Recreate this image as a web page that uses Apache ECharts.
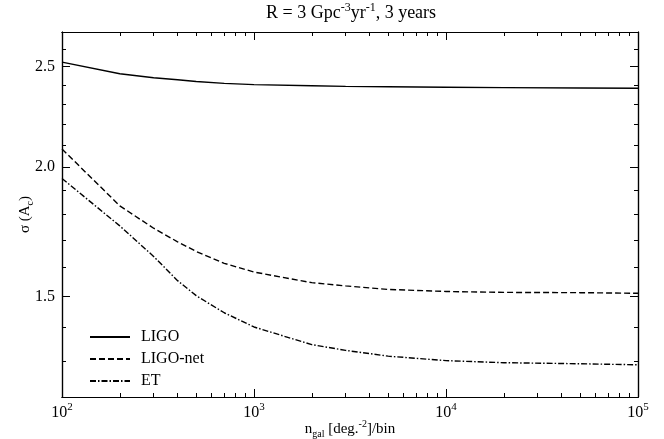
<!DOCTYPE html>
<html>
<head>
<meta charset="utf-8">
<script src="https://cdn.jsdelivr.net/npm/echarts@6/dist/echarts.min.js"></script>
<style>
    html, body {margin: 0; padding: 0; background: #fff;}
    #chart {width: 664px; height: 439px;}
</style>
</head>
<body>
<div id="chart"></div>
<script>
    // values
    let nGal = [100, 200, 300, 400, 500, 700, 1000, 2000, 3000, 5000, 10000, 20000, 50000, 100000]
    let ligo = [2.525, 2.461, 2.439, 2.428, 2.419, 2.409, 2.402, 2.396, 2.393, 2.391, 2.388, 2.386, 2.384, 2.383]
    let ligoNet = [2.082, 1.835, 1.746, 1.694, 1.658, 1.615, 1.584, 1.547, 1.536, 1.524, 1.517, 1.514, 1.513, 1.511]
    let et = [1.950, 1.755, 1.640, 1.554, 1.503, 1.447, 1.402, 1.348, 1.331, 1.314, 1.301, 1.295, 1.292, 1.289]
    let seriesNames = ['LIGO', 'LIGO-net', 'ET']

    let xMajor = [100, 1000, 10000, 100000]
    let xMinor = [200, 300, 400, 500, 600, 700, 800, 900,
        2000, 3000, 4000, 5000, 6000, 7000, 8000, 9000,
        20000, 30000, 40000, 50000, 60000, 70000, 80000, 90000]
    let yMajor = [1.5, 2.0, 2.5]
    let yMinor = [1.3, 1.4, 1.6, 1.7, 1.8, 1.9, 2.1, 2.2, 2.3, 2.4, 2.6]

    let font = 'Liberation Serif'
    let myChart = echarts.init(document.getElementById('chart'))

    function pairs(ys) {
        return nGal.map(function (x, i) { return [x, ys[i]] })
    }

    function xAxisOf(pos, ticks, len, main) {
        return {
            type: 'log',
            logBase: 10,
            min: 100,
            max: 100000,
            position: pos,
            axisLine: {show: true, onZero: false, lineStyle: {color: '#000', width: 1.2}},
            axisTick: {show: true, inside: true, length: len, customValues: ticks, lineStyle: {color: '#000', width: 1}},
            axisLabel: main ? {
                show: true,
                customValues: xMajor,
                margin: 5,
                color: '#000',
                fontFamily: font,
                fontSize: 16,
                lineHeight: 22,
                formatter: function (v) {
                    return '10{sup|' + Math.round(Math.log10(v)) + '}'
                },
                rich: {
                    sup: {fontSize: 11, fontFamily: font, color: '#000', verticalAlign: 'top', lineHeight: 11}
                }
            } : {show: false},
            splitLine: {show: false},
            minorTick: {show: false}
        }
    }

    function yAxisOf(pos, ticks, len, main) {
        return {
            type: 'log',
            logBase: 10,
            min: 1.2,
            max: 2.7,
            position: pos,
            axisLine: {show: true, onZero: false, lineStyle: {color: '#000', width: 1.2}},
            axisTick: {show: true, inside: true, length: len, customValues: ticks, lineStyle: {color: '#000', width: 1}},
            axisLabel: main ? {
                show: true,
                customValues: yMajor,
                margin: 7,
                color: '#000',
                fontFamily: font,
                fontSize: 16,
                formatter: function (v) {
                    return v.toFixed(1)
                }
            } : {show: false},
            splitLine: {show: false},
            minorTick: {show: false}
        }
    }

    let xAxes = [
        xAxisOf('bottom', xMajor, 8, true),
        xAxisOf('bottom', xMinor, 4, false),
        xAxisOf('top', xMajor, 8, false),
        xAxisOf('top', xMinor, 4, false)
    ]
    xAxes[0].name = 'n{sub|gal} [deg.{sup|-2}]/bin'
    xAxes[0].nameLocation = 'middle'
    xAxes[0].nameGap = 22
    xAxes[0].nameMoveOverlap = false
    xAxes[0].nameTextStyle = {
        color: '#000',
        fontFamily: font,
        fontSize: 15,
        lineHeight: 20,
        rich: {
            sub: {fontSize: 10, fontFamily: font, color: '#000', verticalAlign: 'bottom', lineHeight: 10},
            sup: {fontSize: 10, fontFamily: font, color: '#000', verticalAlign: 'top', lineHeight: 10}
        }
    }

    let yAxes = [
        yAxisOf('left', yMajor, 8, true),
        yAxisOf('left', yMinor, 4, false),
        yAxisOf('right', yMajor, 8, false),
        yAxisOf('right', yMinor, 4, false)
    ]
    yAxes[0].name = 'σ (A{sub|c})'
    yAxes[0].nameLocation = 'middle'
    yAxes[0].nameGap = 27
    yAxes[0].nameMoveOverlap = false
    yAxes[0].nameTextStyle = {
        color: '#000',
        fontFamily: font,
        fontSize: 15,
        lineHeight: 20,
        rich: {
            sub: {fontSize: 10, fontFamily: font, color: '#000', verticalAlign: 'bottom', lineHeight: 10}
        }
    }

    let dashes = ['solid', [6, 3], [6, 2, 1.5, 2]]
    let values = [ligo, ligoNet, et]
    let seriesData = []
    for (let i = 0; i < seriesNames.length; i++) {
        seriesData.push({
            name: seriesNames[i],
            type: 'line',
            xAxisIndex: 0,
            yAxisIndex: 0,
            symbol: 'none',
            smooth: false,
            lineStyle: {color: '#000', width: 1.4, type: dashes[i]},
            itemStyle: {color: '#000'},
            data: pairs(values[i])
        })
    }

    let option = {
        animation: false,
        backgroundColor: '#fff',
        title: {
            text: 'R = 3 Gpc{sup|-3}yr{sup|-1}, 3 years',
            left: 261,
            top: -3,
            textStyle: {
                color: '#000',
                fontFamily: font,
                fontSize: 18,
                fontWeight: 'normal',
                lineHeight: 22,
                rich: {
                    sup: {fontSize: 12, fontFamily: font, color: '#000', verticalAlign: 'top', lineHeight: 12}
                }
            }
        },
        grid: {
            left: 62,
            right: 26,
            top: 32,
            bottom: 42,
            outerBoundsMode: 'none',
            containLabel: false
        },
        legend: {
            orient: 'vertical',
            left: 84,
            top: 324,
            itemWidth: 40,
            itemHeight: 14,
            itemGap: 6,
            data: seriesNames,
            itemStyle: {color: 'transparent', borderWidth: 0, opacity: 0},
            textStyle: {color: '#000', fontFamily: font, fontSize: 16, padding: [0, 0, 0, 6]}
        },
        xAxis: xAxes,
        yAxis: yAxes,
        series: seriesData
    }
    myChart.setOption(option)
</script>
</body>
</html>
